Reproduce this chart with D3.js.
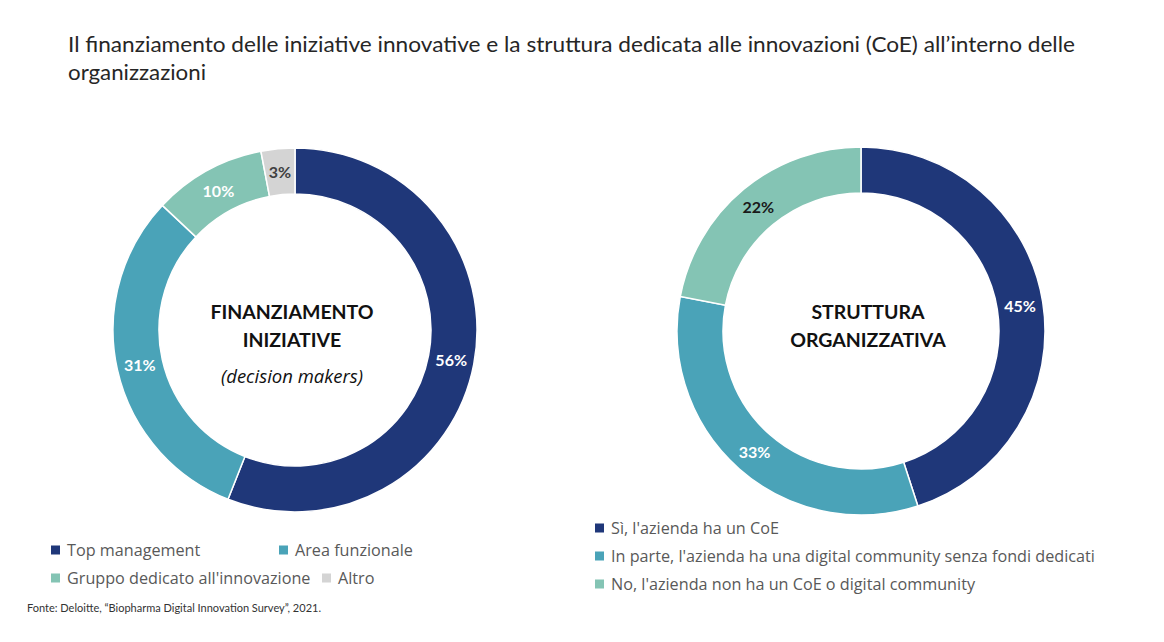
<!DOCTYPE html>
<html><head><meta charset="utf-8">
<script src="https://cdn.jsdelivr.net/npm/d3@7"></script>
<style>
html,body{margin:0;padding:0;background:#fff;}
svg{display:block;font-family:Lato,"Open Sans",sans-serif;}
</style></head>
<body>
<svg id="chart" width="1164" height="642"></svg>
<script>
const titleLines = ["Il finanziamento delle iniziative innovative e la struttura dedicata alle innovazioni (CoE) all\u2019interno delle", "organizzazioni"];
const leftCategories = ["Top management", "Area funzionale", "Gruppo dedicato all'innovazione", "Altro"];
const leftValues = [56, 31, 10, 3];
const rightCategories = ["S\u00ec, l'azienda ha un CoE", "In parte, l'azienda ha una digital community senza fondi dedicati", "No, l'azienda non ha un CoE o digital community"];
const rightValues = [45, 33, 22];
const leftCenterText = ["FINANZIAMENTO", "INIZIATIVE"];
const leftCenterSub = "(decision makers)";
const rightCenterText = ["STRUTTURA", "ORGANIZZATIVA"];
const sourceText = "Fonte: Deloitte, \u201cBiopharma Digital Innovation Survey\u201d, 2021.";

const colors = ["#1f3779", "#4aa3b8", "#84c4b4", "#d4d4d4"];
const labelColorsLeft = ["#ffffff", "#ffffff", "#ffffff", "#404040"];
const labelColorsRight = ["#ffffff", "#ffffff", "#1a1a1a"];

const svg = d3.select("#chart");

// Title
const tl = svg.append("g");
tl.append("text").attr("x", 68).attr("y", 52).attr("font-size", 20.5).attr("fill", "#262626")
  .attr("textLength", 1007).attr("lengthAdjust", "spacingAndGlyphs").text(titleLines[0]);
tl.append("text").attr("x", 68).attr("y", 80).attr("font-size", 20.5).attr("fill", "#262626")
  .attr("textLength", 138).attr("lengthAdjust", "spacingAndGlyphs").text(titleLines[1]);

function donut(cx, cy, rOut, rIn, values, labelColors) {
  const pie = d3.pie().sort(null).value(d => d);
  const arcs = pie(values);
  const arc = d3.arc().innerRadius(rIn).outerRadius(rOut);
  const labelArc = d3.arc().innerRadius((rIn + rOut) / 2).outerRadius((rIn + rOut) / 2);
  const g = svg.append("g").attr("transform", `translate(${cx},${cy})`);
  g.selectAll("path").data(arcs).join("path")
    .attr("d", arc).attr("fill", (d, i) => colors[i])
    .attr("stroke", "#fff").attr("stroke-width", 1.5);
  g.selectAll("text.lbl").data(arcs).join("text").attr("class", "lbl")
    .attr("transform", d => `translate(${labelArc.centroid(d)})`)
    .attr("text-anchor", "middle").attr("dominant-baseline", "central")
    .attr("font-size", 16).attr("font-weight", 700)
    .attr("fill", (d, i) => labelColors[i])
    .text(d => d.data + "%");
  return g;
}

const gl = donut(295, 330, 182, 136, leftValues, labelColorsLeft);
const gr = donut(861, 331, 184, 138, rightValues, labelColorsRight);

// Center texts
gl.selectAll("text.ct").data(leftCenterText).join("text").attr("class", "ct")
  .attr("x", -3).attr("y", (d, i) => -11 + i * 28)
  .attr("text-anchor", "middle").attr("font-size", 19.5).attr("font-weight", 700).attr("fill", "#111")
  .text(d => d);
gl.append("text").attr("x", -3).attr("y", 53).attr("text-anchor", "middle")
  .attr("font-family", "'Open Sans', sans-serif")
  .attr("font-size", 18.5).attr("font-style", "italic").attr("fill", "#111").text(leftCenterSub);
gr.selectAll("text.ct").data(rightCenterText).join("text").attr("class", "ct")
  .attr("x", 7).attr("y", (d, i) => -12 + i * 28)
  .attr("text-anchor", "middle").attr("font-size", 19.5).attr("font-weight", 700).attr("fill", "#111")
  .text(d => d);

// Legends
const legendTextColor = "#595959";
function legendItem(x, y, color, label) {
  svg.append("rect").attr("x", x).attr("y", y - 4.5).attr("width", 9).attr("height", 9).attr("fill", color);
  svg.append("text").attr("x", x + 16).attr("y", y).attr("dominant-baseline", "central")
    .attr("font-family", "'Open Sans', sans-serif")
    .attr("font-size", 16.2).attr("fill", legendTextColor).text(label);
}
const leftLegendPos = [[51, 550], [279, 550], [51, 578], [322, 578]];
leftCategories.forEach((c, i) => legendItem(leftLegendPos[i][0], leftLegendPos[i][1], colors[i], c));
rightCategories.forEach((c, i) => legendItem(595, 528 + i * 28, colors[i], c));

// Source
svg.append("text").attr("x", 27).attr("y", 612).attr("font-size", 11).attr("fill", "#333").text(sourceText);
</script>
</body></html>
